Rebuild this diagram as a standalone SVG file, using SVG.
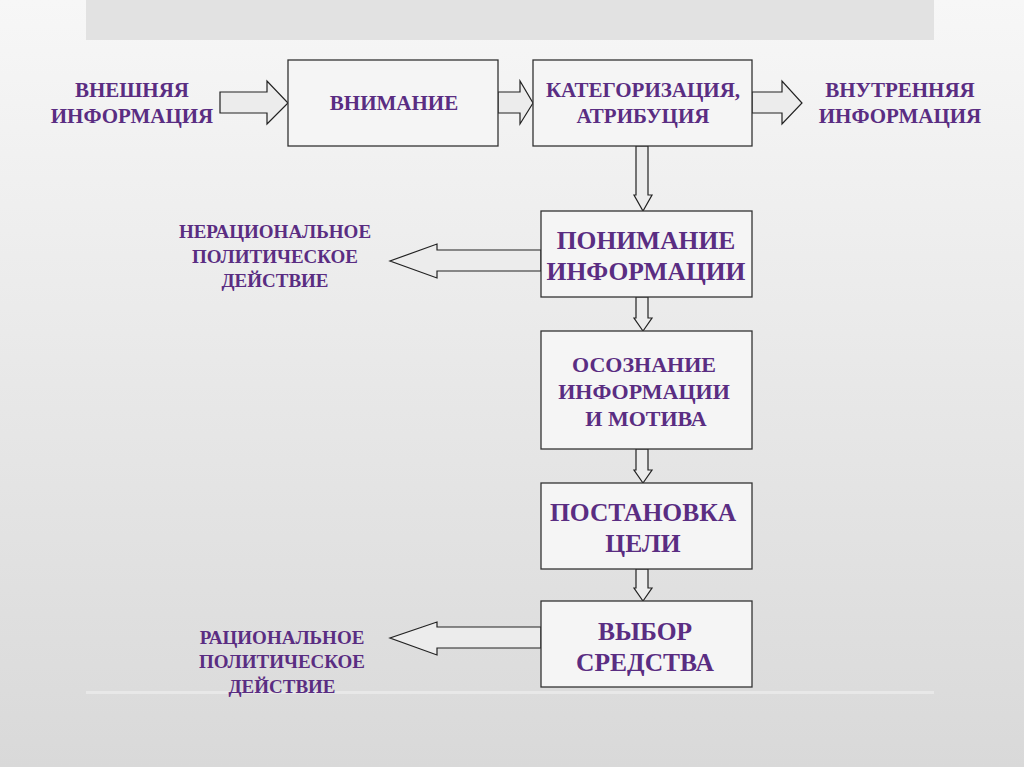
<svg xmlns="http://www.w3.org/2000/svg" width="1024" height="767" viewBox="0 0 1024 767">
<defs>
<linearGradient id="bg" x1="0" y1="0" x2="0" y2="1"><stop offset="0" stop-color="#f7f7f7"/><stop offset="1" stop-color="#d9d9d9"/></linearGradient>
<style>
.box{fill:#f5f5f5;stroke:#333;stroke-width:1.3}
.ar{fill:#ececec;stroke:#222;stroke-width:1.2}
text{font-family:"Liberation Serif",serif;font-weight:bold;fill:#5a2d82;text-anchor:middle}
.s{font-size:19px}.m{font-size:22px}.l{font-size:25.5px}.t{font-size:21px}
</style>
</defs>
<rect width="1024" height="767" fill="url(#bg)"/>
<rect x="86" y="0" width="848" height="40" fill="#e2e2e2"/>
<rect x="86" y="691" width="848" height="3" fill="#e8e8e8"/>
<g id="connectors">
<path class="ar" d="M220 92H267V81L288 103L267 124V113H220Z"/>
<path class="ar" d="M498 92H520V81L533 103L520 124V113H498Z"/>
<path class="ar" d="M752 92H782V81L802 103L782 124V113H752Z"/>
<path class="ar" d="M636 146V195H634L643 211L652 195H648V146Z"/>
<path class="ar" d="M636 297V318H634L643 331L652 318H648V297Z"/>
<path class="ar" d="M636 449V470H634L643 483L652 470H648V449Z"/>
<path class="ar" d="M636 569V588H634L643 601L652 588H648V569Z"/>
<path class="ar" d="M541 250H437V244L390 261L437 278V271H541Z"/>
<path class="ar" d="M541 627H437V622L390 638L437 655V648H541Z"/>
</g>
<g id="ext"><text class="t" x="132" y="97">ВНЕШНЯЯ</text><text class="t" x="132" y="123">ИНФОРМАЦИЯ</text></g>
<g id="attention"><rect class="box" x="288" y="60" width="210" height="86"/><text class="t" x="394" y="110">ВНИМАНИЕ</text></g>
<g id="categ"><rect class="box" x="533" y="60" width="219" height="86"/><text class="t" x="643" y="97">КАТЕГОРИЗАЦИЯ,</text><text class="t" x="643" y="123">АТРИБУЦИЯ</text></g>
<g id="int"><text class="t" x="900" y="97">ВНУТРЕННЯЯ</text><text class="t" x="900" y="123">ИНФОРМАЦИЯ</text></g>
<g id="understand"><rect class="box" x="541" y="211" width="211" height="86"/><text class="l" x="646" y="249">ПОНИМАНИЕ</text><text class="l" x="646" y="280">ИНФОРМАЦИИ</text></g>
<g id="irr"><text class="s" x="275" y="238">НЕРАЦИОНАЛЬНОЕ</text><text class="s" x="275" y="263">ПОЛИТИЧЕСКОЕ</text><text class="s" x="275" y="287">ДЕЙСТВИЕ</text></g>
<g id="aware"><rect class="box" x="541" y="331" width="211" height="118"/><text class="m" x="644" y="372">ОСОЗНАНИЕ</text><text class="m" x="644" y="399">ИНФОРМАЦИИ</text><text class="m" x="646" y="426">И МОТИВА</text></g>
<g id="goal"><rect class="box" x="541" y="483" width="211" height="86"/><text class="l" x="643" y="521">ПОСТАНОВКА</text><text class="l" x="643" y="552">ЦЕЛИ</text></g>
<g id="choice"><rect class="box" x="541" y="601" width="211" height="86"/><text class="l" x="645" y="640">ВЫБОР</text><text class="l" x="645" y="671">СРЕДСТВА</text></g>
<g id="rat"><text class="s" x="282" y="644">РАЦИОНАЛЬНОЕ</text><text class="s" x="282" y="668">ПОЛИТИЧЕСКОЕ</text><text class="s" x="282" y="693">ДЕЙСТВИЕ</text></g>
</svg>
